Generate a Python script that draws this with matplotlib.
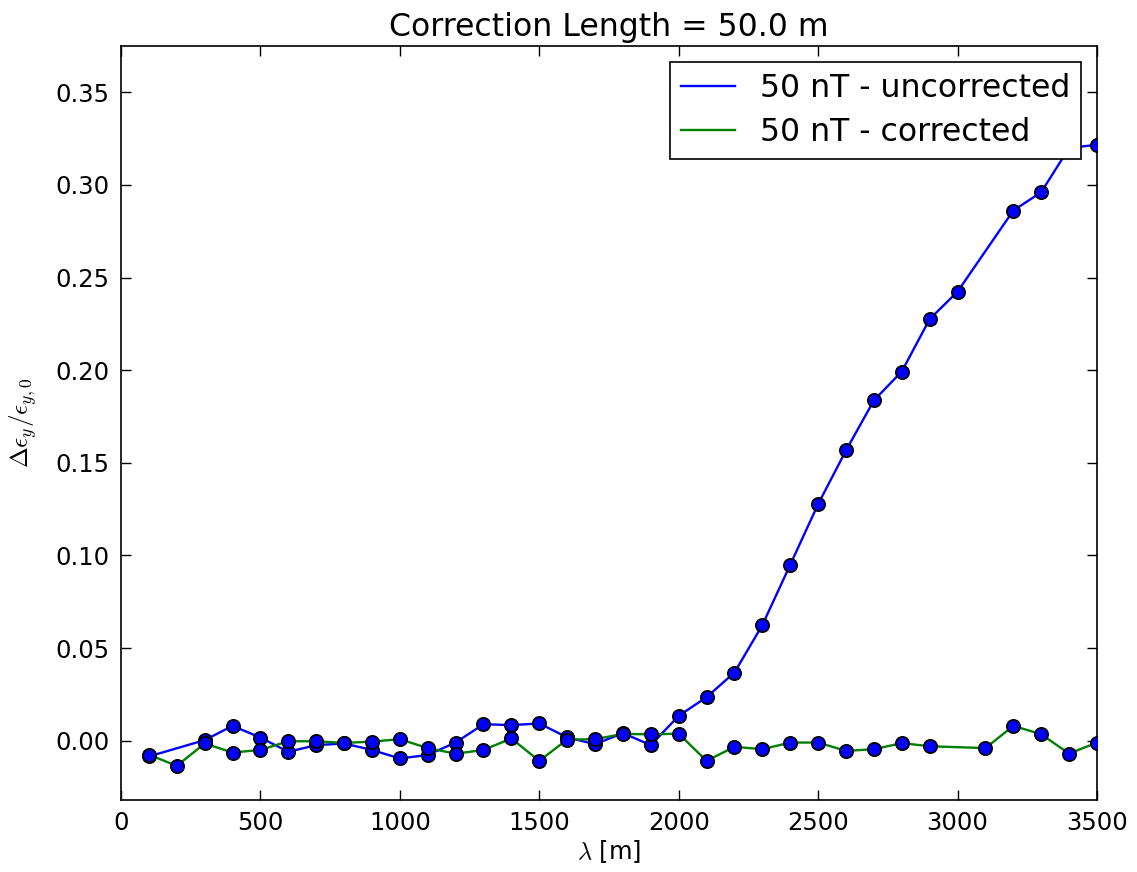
import matplotlib
matplotlib.use('Agg')
import matplotlib.pyplot as plt

# wavelength values [m]
lam_unc = [100, 300, 400, 500, 600, 700, 800, 900, 1000, 1100, 1200, 1300, 1400, 1500,
           1600, 1700, 1800, 1900, 2000, 2100, 2200, 2300, 2400, 2500, 2600, 2700, 2800,
           2900, 3000, 3200, 3300, 3400, 3500]
demit_unc = [-0.0085, 0.0003, 0.0080, 0.0017, -0.0060, -0.0024, -0.0015, -0.0050, -0.0096,
             -0.0077, -0.0010, 0.0089, 0.0084, 0.0093, 0.0018, -0.0019, 0.0041, -0.0024,
             0.0134, 0.0235, 0.0368, 0.0624, 0.0950, 0.1277, 0.1567, 0.1837, 0.1993,
             0.2276, 0.2424, 0.2862, 0.2961, 0.3200, 0.3217]

lam_cor = [100, 200, 300, 400, 500, 600, 700, 800, 900, 1000, 1100, 1200, 1300, 1400, 1500,
           1600, 1700, 1800, 1900, 2000, 2100, 2200, 2300, 2400, 2500, 2600, 2700, 2800,
           2900, 3100, 3200, 3300, 3400, 3500]
demit_cor = [-0.0075, -0.0136, -0.0015, -0.0064, -0.0050, -0.0003, -0.0003, -0.0012, -0.0005,
             0.0008, -0.0040, -0.0070, -0.0050, 0.0012, -0.0109, 0.0006, 0.0008, 0.0037,
             0.0034, 0.0038, -0.0109, -0.0033, -0.0046, -0.0010, -0.0010, -0.0055, -0.0046,
             -0.0013, -0.0030, -0.0040, 0.0080, 0.0035, -0.0070, -0.0010]

plt.rcParams['mathtext.fontset'] = 'cm'
plt.rcParams['font.family'] = 'DejaVu Sans'

fig = plt.figure(figsize=(11.37, 8.72), dpi=100)
ax = fig.add_axes([0.1064, 0.0826, 0.8584, 0.8646])

ax.plot(lam_unc, demit_unc, color='b', lw=1.7, label='50 nT - uncorrected', zorder=2)
ax.plot(lam_unc, demit_unc, 'o', color='b', mec='k', mew=1.3, ms=9.5, zorder=3)
ax.plot(lam_cor, demit_cor, color=(0, 0.5, 0), lw=1.7, label='50 nT - corrected', zorder=4)
ax.plot(lam_cor, demit_cor, 'o', color='b', mec='k', mew=1.3, ms=9.5, zorder=5)

ax.set_xlim(0, 3500)
ax.set_ylim(-0.032, 0.375)
ax.set_xticks(range(0, 3501, 500))
ax.set_yticks([0.0, 0.05, 0.10, 0.15, 0.20, 0.25, 0.30, 0.35])
ax.set_yticklabels(['%.2f' % v for v in [0.0, 0.05, 0.10, 0.15, 0.20, 0.25, 0.30, 0.35]])
ax.tick_params(direction='in', top=True, right=True, length=7, width=1,
               labelsize=17.5, pad=8, colors='k')
for s in ax.spines.values():
    s.set_linewidth(1.2)

ax.set_xlabel(r'$\lambda$ [m]', fontsize=17.5, labelpad=2)
ax.set_ylabel(r'$\Delta\epsilon_y/\epsilon_{y,0}$', fontsize=18, labelpad=12)
ax.set_title('Correction Length = 50.0 m', fontsize=22.7, pad=7)

leg = ax.legend(loc='upper right', fontsize=22.7, fancybox=False, framealpha=1,
                edgecolor='k', handlelength=1.7, handletextpad=0.8,
                borderaxespad=0.5, borderpad=0.35, labelspacing=0.42)
leg.get_frame().set_linewidth(1.2)

fig.savefig('out.png', dpi=100)
